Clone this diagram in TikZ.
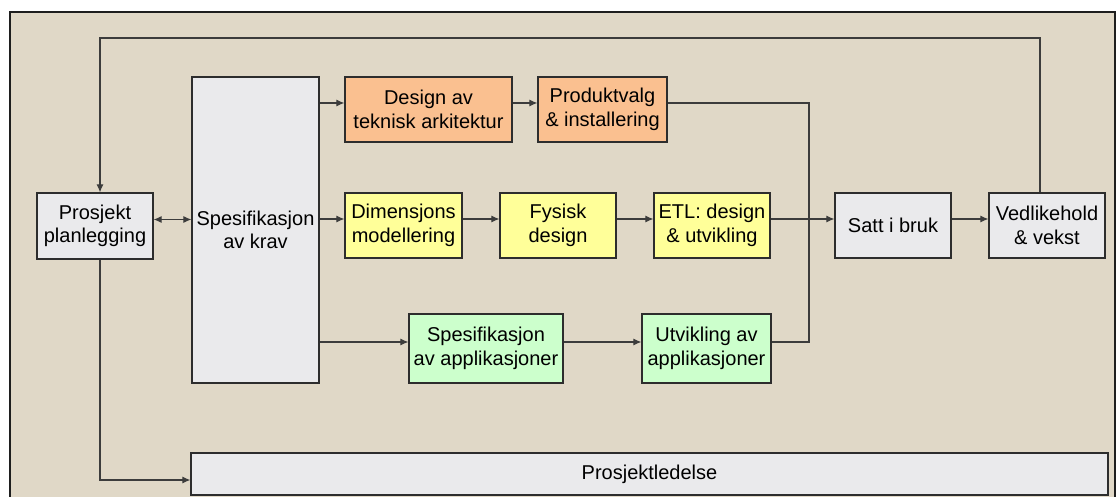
\documentclass[tikz,border=0pt]{standalone}
\usepackage{fontspec}
\setmainfont{Liberation Sans}
\usetikzlibrary{arrows.meta,calc}
\definecolor{bg}{RGB}{224,216,199}
\definecolor{orangebox}{RGB}{250,192,144}
\definecolor{yellowbox}{RGB}{255,255,153}
\definecolor{greenbox}{RGB}{204,255,204}
\definecolor{graybox}{RGB}{234,234,236}
\definecolor{boxline}{RGB}{45,45,45}
\definecolor{conline}{RGB}{60,60,60}
\definecolor{framecol}{RGB}{30,30,30}
\begin{document}
\begin{tikzpicture}[x=1pt,y=-1pt,
  box/.style={draw=boxline,line width=1.2pt,align=center,inner sep=0pt,
    font=\fontsize{20}{23.5}\selectfont,text=black},
  conn/.style={draw=conline,line width=1.1pt},
  arr/.style={conn,-{Latex[length=8pt,width=7pt]}},
  darr/.style={conn,{Latex[length=8pt,width=7pt]}-{Latex[length=8pt,width=7pt]}}]
\useasboundingbox (0,0) rectangle (1117,497);
\fill[white] (0,0) rectangle (1117,497);
\fill[bg] (10,12) rectangle (1115,497);
\draw[framecol,line width=1.2pt] (10,497) -- (10,12) -- (1115,12) -- (1115,497);

\node[box,fill=graybox,minimum width=116pt,minimum height=66pt] (plan) at (95,226) {Prosjekt\\planlegging};
\node[box,fill=graybox,minimum width=127pt,minimum height=306pt] (krav) at (255.5,230) {Spesifikasjon\\av krav};
\node[box,fill=orangebox,minimum width=167pt,minimum height=65pt] (design) at (428.5,109.5) {Design av\\teknisk arkitektur};
\node[box,fill=orangebox,minimum width=129pt,minimum height=65pt] (produkt) at (602.5,109.5) {Produktvalg\\\& installering};
\node[box,fill=yellowbox,minimum width=117pt,minimum height=65pt] (dim) at (403.5,225.5) {Dimensjons\\modellering};
\node[box,fill=yellowbox,minimum width=116pt,minimum height=65pt] (fysisk) at (558,225.5) {Fysisk\\design};
\node[box,fill=yellowbox,minimum width=116pt,minimum height=65pt] (etl) at (712,225.5) {ETL: design\\\& utvikling};
\node[box,fill=graybox,minimum width=116pt,minimum height=65pt] (satt) at (893,225.5) {Satt i bruk};
\node[box,fill=graybox,minimum width=116pt,minimum height=65pt] (vedl) at (1047,225.5) {Vedlikehold\\\& vekst};
\node[box,fill=greenbox,minimum width=154pt,minimum height=69pt] (spesapp) at (486,348.5) {Spesifikasjon\\av applikasjoner};
\node[box,fill=greenbox,minimum width=129pt,minimum height=69pt] (utv) at (706.5,348.5) {Utvikling av\\applikasjoner};
\node[box,fill=graybox,minimum width=917pt,minimum height=42pt] (ledelse) at (649.5,474) {Prosjektledelse};

% connectors
\path ([yshift=6.5pt]plan.east) coordinate (p1);
\draw[darr] (p1) -- (p1 -| krav.west);

\path ([yshift=6.5pt]design.west) coordinate (d1);
\draw[arr] (d1 -| krav.east) -- (d1);
\draw[arr] ([yshift=6.5pt]design.east) -- ([yshift=6.5pt]produkt.west);

\path ([yshift=6.5pt]dim.west) coordinate (m0);
\draw[arr] (m0 -| krav.east) -- (m0);
\draw[arr] ([yshift=6.5pt]dim.east) -- ([yshift=6.5pt]fysisk.west);
\draw[arr] ([yshift=6.5pt]fysisk.east) -- ([yshift=6.5pt]etl.west);
\draw[arr] ([yshift=6.5pt]etl.east) -- ([yshift=6.5pt]satt.west);
\draw[arr] ([yshift=6.5pt]satt.east) -- ([yshift=6.5pt]vedl.west);

\path ([yshift=6.5pt]spesapp.west) coordinate (a0);
\draw[arr] (a0 -| krav.east) -- (a0);
\draw[arr] ([yshift=6.5pt]spesapp.east) -- ([yshift=6.5pt]utv.west);

\coordinate (mx) at (809,0);
\path ([yshift=6.5pt]produkt.east) coordinate (pe);
\path ([yshift=6.5pt]utv.east) coordinate (ue);
\draw[conn] (pe) -| (mx |- ue) -- (ue);

\coordinate (topy) at (0,38);
\path ([xshift=-7pt]vedl.north) coordinate (v1);
\path ([xshift=5pt]plan.north) coordinate (q1);
\draw[arr] (v1) -- (v1 |- topy) -- (q1 |- topy) -- (q1);

\path ([xshift=5pt]plan.south) coordinate (q2);
\path ([yshift=-6pt]ledelse.west) coordinate (l1);
\draw[arr] (q2) |- (l1);
\end{tikzpicture}
\end{document}
